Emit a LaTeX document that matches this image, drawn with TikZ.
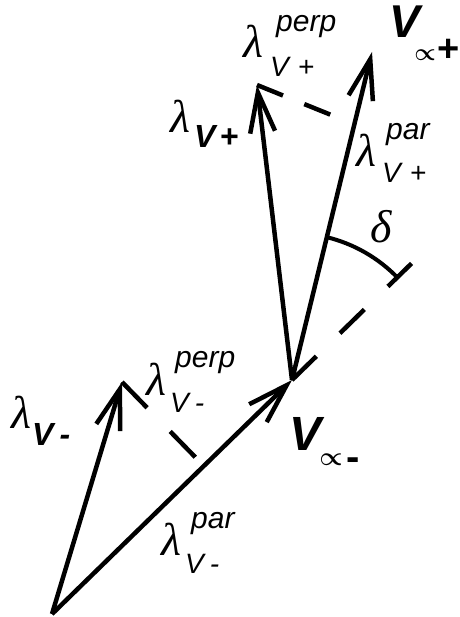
\documentclass[tikz,border=0pt]{standalone}
\usepackage{fontspec}
\usepackage{graphicx}
\setmainfont{Liberation Sans}
\newfontfamily\lamfont{Liberation Serif}
\usetikzlibrary{arrows.meta,calc}
\begin{document}
\begin{tikzpicture}[x=1pt,y=-1pt,
  vec/.style={line width=4.5pt, -{Straight Barb[length=40pt,width=25pt]}},
  dashln/.style={line width=4.5pt},
  arcln/.style={line width=4pt},
  lam/.style={inner sep=0pt, anchor=base west, font=\fontsize{46}{50}\selectfont\lamfont\itshape},
  supscr/.style={inner sep=0pt, anchor=base west, font=\fontsize{30}{32}\selectfont\itshape},
  scr/.style={inner sep=0pt, anchor=base west, font=\fontsize{28}{30}\selectfont\itshape},
  bscr/.style={inner sep=0pt, anchor=base west, font=\fontsize{32}{34}\selectfont\bfseries\itshape},
  bigv/.style={inner sep=0pt, anchor=base west, font=\fontsize{46}{50}\selectfont\bfseries\itshape},
  propsym/.style={inner sep=0pt, anchor=center},
  bsign/.style={inner sep=0pt, anchor=base west, font=\fontsize{38}{42}\selectfont\bfseries},
]
\useasboundingbox (0,0) rectangle (459,617);
\coordinate (O) at (52,614);
\coordinate (M) at (292,380);
\coordinate (Pm) at (122,382);
\coordinate (Pp) at (257,85);
\coordinate (Ppx) at (357,125.4);
\coordinate (Vp) at (372,52);
\coordinate (Fm) at ($(O)!(Pm)!(M)$);
\coordinate (E) at ($(M)!-167pt!(O)$);
\coordinate (Fp) at (intersection of Pp--Ppx and M--Vp);
\coordinate (A1) at ($(M)!147pt!(Vp)$);

\draw[vec] (O) -- (M);
\draw[vec] (O) -- (Pm);
\draw[vec] (M) -- (Pp);
\draw[vec] (M) -- (Vp);
\draw[dashln, dash pattern=on 34pt off 33pt] (M) -- (E);
\draw[dashln, dash pattern=on 36pt off 33pt] (Pm) -- (Fm);
\draw[dashln, dash pattern=on 28pt off 23pt, shorten >=4pt] (Pp) -- (Fp);
\draw[arcln] (A1) arc[start angle=-76.3, end angle=-44.3, radius=147];

% lambda perp V+
\node[lam] (lamA) at (243,58) {λ};
\node[supscr] (supA) at (276,32) {perp};
\node[scr] (subA) at (270,77) {V\kern9pt+};
% lambda V+
\node[lam] (lamB) at (170,133) {λ};
\node[bscr] (subB) at (194,148) {V\kern4pt+};
% lambda par V+
\node[lam] (lamC) at (356,167) {λ};
\node[supscr] (supC) at (386,140) {par};
\node[scr] (subC) at (382,183) {V\kern9pt+};
% lambda perp V-
\node[lam] (lamD) at (146,395) {λ};
\node[supscr] (supD) at (175,367) {perp};
\node[scr] (subD) at (170,412) {V\kern6pt-};
% lambda par V-
\node[lam] (lamE) at (161,555) {λ};
\node[supscr] (supE) at (191,528) {par};
\node[scr] (subE) at (185,573) {V\kern6pt-};
% lambda V-
\node[lam] (lamF) at (11,428) {λ};
\node[bscr] (subF) at (32,445) {V\kern6pt-};
% delta
\node[lam] (delta) at (370,242) {δ};
% V inf +
\node[bigv] (Vinfp) at (389,38) {V};
\node[propsym] (propp) at (425,55) {\scalebox{2.4}{\boldmath$\propto$}};
\node[bsign] (plusp) at (437,62) {+};
% V inf -
\node[bigv, font=\fontsize{48}{52}\selectfont\bfseries\itshape] (Vinfm) at (289,450) {V};
\node[propsym] (propm) at (331,459.5) {\scalebox{2.6}{\boldmath$\propto$}};
\node[bsign, font=\fontsize{40}{44}\selectfont\bfseries] (minm) at (346,470) {-};
\end{tikzpicture}
\end{document}
